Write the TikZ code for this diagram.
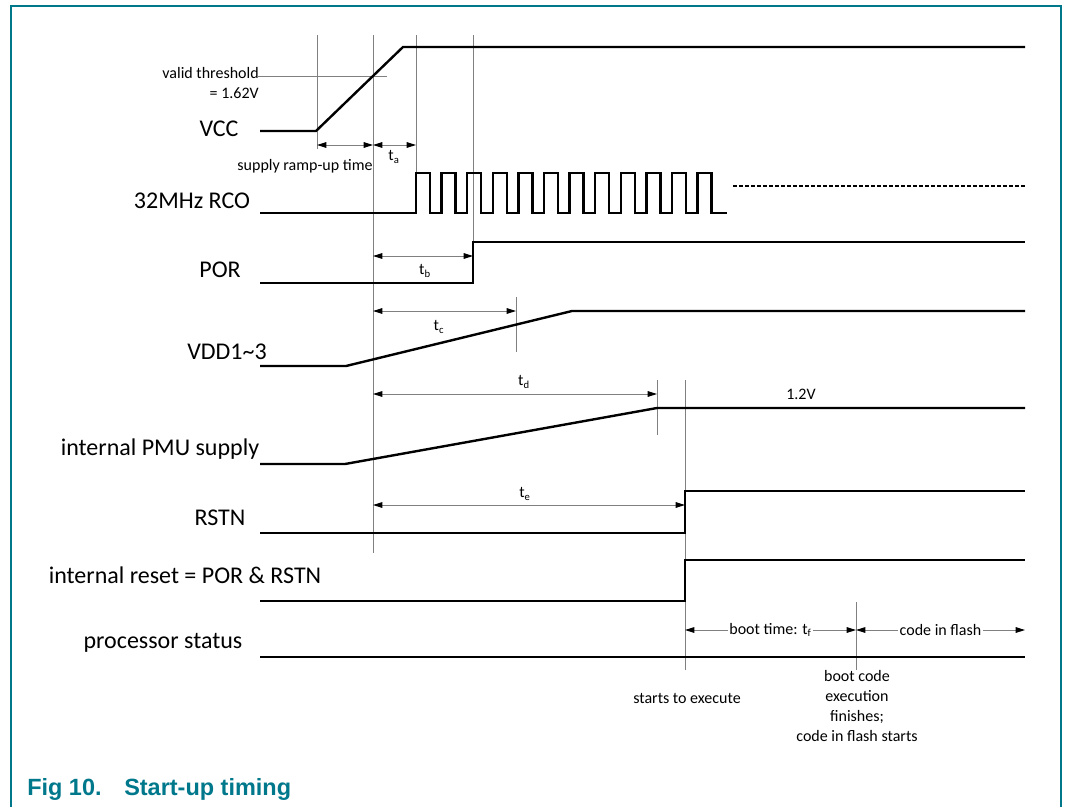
\documentclass[tikz,border=0pt]{standalone}
\usepackage{fontspec}
\setmainfont{Carlito}
\newfontfamily\capfont{Liberation Sans}
\usetikzlibrary{arrows.meta}
\definecolor{nxpteal}{RGB}{0,120,140}
\definecolor{guidegray}{RGB}{128,128,128}
\tikzset{
  sig/.style={black, line width=1.8pt, line join=miter},
  guide/.style={guidegray, line width=0.75pt},
  dimboth/.style={guide, {Triangle[length=7pt,width=4.2pt,black]}-{Triangle[length=7pt,width=4.2pt,black]}},
  lbl/.style={font=\fontsize{18pt}{20pt}\selectfont, inner sep=0pt, text=black},
  sml/.style={font=\fontsize{12pt}{14pt}\selectfont, inner sep=0pt, text=black},
  frame/.style={nxpteal, line width=1.5pt}
}
\begin{document}
\begin{tikzpicture}[x=0.75pt,y=-0.75pt]
\useasboundingbox (0,0) rectangle (1066,807);
\fill[white] (0,0) rectangle (1066,807);
% frame
\draw[frame] (11,807) -- (11,6) -- (1061,6) -- (1061,807);

% guide lines
\draw[guide] (317,35) -- (317,149);
\draw[guide] (373,35) -- (373,553);
\draw[guide] (416,35) -- (416,173);
\draw[guide] (473,35) -- (473,283);
\draw[guide] (258,76) -- (387,76);
\draw[guide] (516,297) -- (516,352);
\draw[guide] (657,380) -- (657,435);
\draw[guide] (685,380) -- (685,670);
\draw[guide] (856,602) -- (856,670);

% dimension arrows
\draw[dimboth] (317,145) -- (373,145);
\draw[dimboth] (373,145) -- (416,145);
\draw[dimboth] (373,256) -- (473,256);
\draw[dimboth] (373,311) -- (516,311);
\draw[dimboth] (373,394) -- (657,394);
\draw[dimboth] (373,505) -- (685,505);
\draw[dimboth] (685,630) -- node[sml, fill=white, inner xsep=1pt] (tf) {boot time: t\textsubscript{f}} (856,630);
\draw[dimboth] (856,630) -- node[sml, fill=white, inner xsep=1pt] (cif) {code in flash} (1025,630);

% signals
\draw[sig] (260,131) -- (316,131) -- (403,47) -- (1025,47);
\draw[sig] (260,213) -- (416,213)
  \foreach \k in {0,...,11} { -- ({416+25.6*\k},213) -- ({416+25.6*\k},173) -- ({430+25.6*\k},173) -- ({430+25.6*\k},213) }
  -- (727,213);
\draw[black, line width=1.1pt, dash pattern=on 3pt off 1.5pt] (733,186) -- (1025,186);
\draw[sig] (260,283) -- (473,283) -- (473,242) -- (1025,242);
\draw[sig] (260,366) -- (346,366) -- (572,311) -- (1025,311);
\draw[sig] (260,464) -- (345,464) -- (657,408) -- (1025,408);
\draw[sig] (260,533) -- (685,533) -- (685,491) -- (1025,491);
\draw[sig] (260,601) -- (685,601) -- (685,560) -- (1025,560);
\draw[sig] (260,657) -- (1025,657);

% signal labels
\node[lbl] (vcc) at (219,129) {VCC};
\node[lbl] (rco) at (192,201) {32MHz RCO};
\node[lbl] (por) at (220,270) {POR};
\node[lbl] (vdd) at (227,352) {VDD1\textasciitilde3};
\node[lbl] (pmu) at (160,449) {internal PMU supply};
\node[lbl] (rstn) at (220,518) {RSTN};
\node[lbl] (irst) at (185,575) {internal reset = POR \& RSTN};
\node[lbl] (proc) at (163,643) {processor status};

% small labels
\node[sml, anchor=east] (vt1) at (259,73) {valid threshold};
\node[sml, anchor=east] (vt2) at (259,93) {= 1.62V};
\node[sml] (ramp) at (305,166) {supply ramp-up time};
\node[sml] (ta) at (394,157) {t\textsubscript{a}};
\node[sml] (tb) at (425,271) {t\textsubscript{b}};
\node[sml] (tc) at (439,327) {t\textsubscript{c}};
\node[sml] (td) at (524,382) {t\textsubscript{d}};
\node[sml] (te) at (525,494) {t\textsubscript{e}};
\node[sml] (v12) at (801,394) {1.2V};
\node[sml] (ste) at (687,698) {starts to execute};
\node[sml, align=center] (bce) at (857,706) {boot code\\[1pt] execution\\[1pt] finishes;\\[1pt] code in flash starts};

% caption
\node[anchor=base west, inner sep=0pt, text=nxpteal, font=\capfont\bfseries\fontsize{17.6pt}{20pt}\selectfont] (fig) at (27,795) {Fig 10.};
\node[anchor=base west, inner sep=0pt, text=nxpteal, font=\capfont\bfseries\fontsize{17.6pt}{20pt}\selectfont] (cap) at (124,795) {Start-up timing};
\end{tikzpicture}
\end{document}
